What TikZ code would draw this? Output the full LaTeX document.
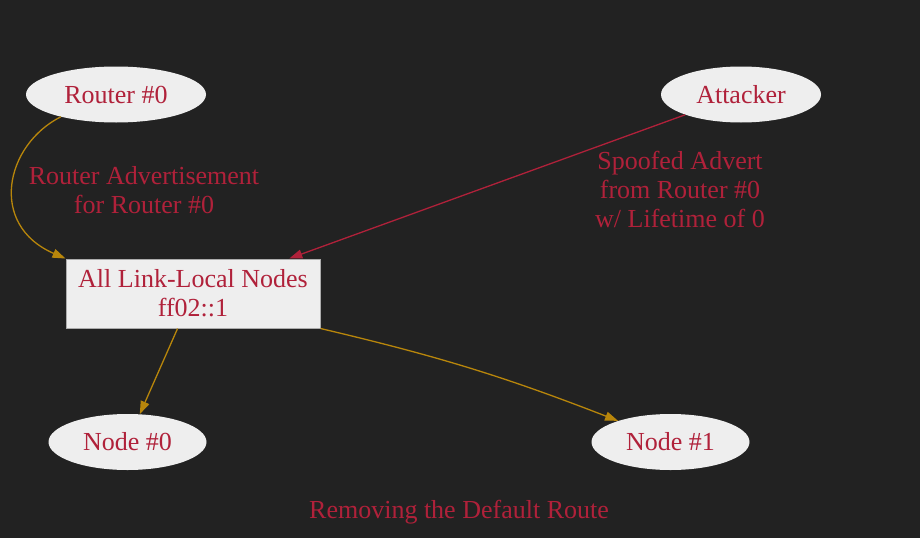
\documentclass[tikz,border=0pt]{standalone}
\usepackage{fontspec}
\setmainfont{LiberationSerif}[Extension=.ttf, UprightFont=*-Regular, BoldFont=*-Bold, ItalicFont=*-Italic]
\usetikzlibrary{shapes.geometric,arrows.meta}
\definecolor{bgdark}{HTML}{222222}
\definecolor{nodefill}{HTML}{EEEEEE}
\definecolor{redtext}{HTML}{B0213A}
\definecolor{goldline}{HTML}{B8860B}

\begin{document}
\begin{tikzpicture}[x=1pt, y=-1pt, font=\fontsize{26}{29}\selectfont,
  >={Triangle[length=13pt,width=9pt]},
  host/.style={ellipse, fill=nodefill, text=redtext, minimum width=#1, minimum height=56pt, inner sep=0pt},
  group/.style={draw=gray!65, line width=1pt, fill=nodefill, text=redtext, align=center, minimum width=254pt, minimum height=69pt, inner sep=0pt},
  lbl/.style={text=redtext, align=center, inner sep=0pt},
  goldedge/.style={draw=goldline, line width=1.3pt},
  rededge/.style={draw=redtext, line width=1.3pt}]
  \fill[bgdark] (0,0) rectangle (920,538);
  \useasboundingbox (0,0) rectangle (920,538);
  \node[host=180pt] (r0) at (116,94.5) {Router \#0};
  \node[host=160pt] (att) at (741,94.5) {Attacker};
  \node[group] (all) at (193,293.5) {All Link-Local Nodes\\ff02::1};
  \node[host=158pt] (n0) at (127.5,442) {Node \#0};
  \node[host=158pt] (n1) at (670.5,442) {Node \#1};
  \node[lbl] (lra) at (144,190) {Router Advertisement\\for Router \#0};
  \node[lbl] (lsp) at (680,189) {Spoofed Advert\\from Router \#0\\w/ Lifetime of 0};
  \node[lbl] (title) at (459,512) {Removing the Default Route};
  \draw[goldedge, ->] (r0.202) .. controls (5,145) and (-12,225) .. (all.north west);
  \draw[rededge, ->] (att) -- (all);
  \draw[goldedge, ->] (all) -- (n0);
  \draw[goldedge, ->] (all.south east) to[bend left=4] (n1);
\end{tikzpicture}
\end{document}
